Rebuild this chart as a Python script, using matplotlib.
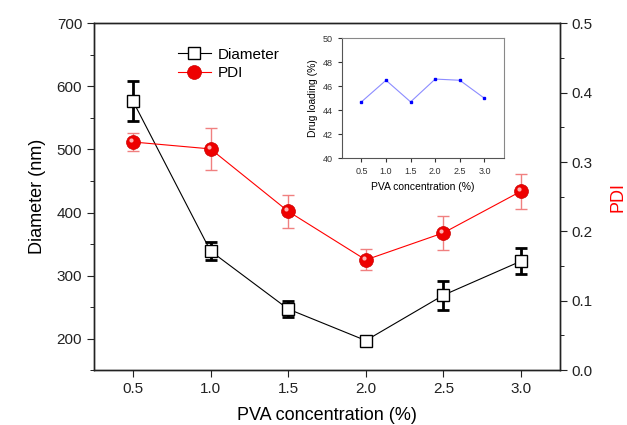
import numpy as np
import matplotlib.pyplot as plt
import matplotlib.transforms as mtransforms
from matplotlib.ticker import MultipleLocator, FormatStrFormatter

plt.rcParams['font.family'] = ['Liberation Sans', 'DejaVu Sans']

# data
pva = [0.5, 1.0, 1.5, 2.0, 2.5, 3.0]
diameter = [577, 339, 247, 197, 269, 323]
diameter_err = [32, 15, 12, 5, 23, 21]
pdi = [0.329, 0.319, 0.229, 0.159, 0.198, 0.258]
pdi_err = [0.013, 0.030, 0.024, 0.015, 0.025, 0.025]
loading = [44.7, 46.5, 44.7, 46.6, 46.5, 45.0]

fig = plt.figure(figsize=(6.27, 4.25), dpi=100)
ax = fig.add_axes([0.150, 0.129, 0.743, 0.816])
ax2 = ax.twinx()

# diameter (left axis)
ax.errorbar(pva, diameter, yerr=diameter_err, fmt='none', ecolor='black',
            elinewidth=2, capsize=4, capthick=2, zorder=2)
l1, = ax.plot(pva, diameter, color='black', lw=0.8, marker='s', ms=8,
              mfc='white', mec='black', mew=1, label='Diameter', zorder=3)

# PDI (right axis)
ax2.errorbar(pva, pdi, yerr=pdi_err, fmt='none', ecolor='#f08080',
             elinewidth=1, capsize=4, capthick=1, zorder=2)
l2, = ax2.plot(pva, pdi, color='red', lw=0.8, marker='o', ms=10,
               mfc='#ee0000', mec='#cc0000', mew=0.5, label='PDI', zorder=3)
# little highlight on the spheres
shift = mtransforms.ScaledTranslation(-2/100, 2/100, fig.dpi_scale_trans)
ax2.plot(pva, pdi, ls='none', marker='o', ms=3, mfc='#ffb0b0', mec='none',
         zorder=4, transform=ax2.transData + shift)

ax.set_xlim(0.25, 3.25)
ax.set_ylim(150, 700)
ax2.set_ylim(0, 0.5)
ax.set_xticks(pva)
ax.set_xticklabels(['0.5', '1.0', '1.5', '2.0', '2.5', '3.0'])
ax.yaxis.set_major_locator(MultipleLocator(100))
ax.yaxis.set_minor_locator(MultipleLocator(50))
ax2.yaxis.set_major_locator(MultipleLocator(0.1))
ax2.yaxis.set_minor_locator(MultipleLocator(0.05))
ax2.yaxis.set_major_formatter(FormatStrFormatter('%.1f'))

ax.tick_params(axis='both', which='major', direction='out', length=5, labelsize=11, colors='#222222')
ax.tick_params(axis='y', which='minor', direction='out', length=3)
ax2.tick_params(axis='y', which='major', direction='out', length=5, labelsize=11, colors='#222222')
ax2.tick_params(axis='y', which='minor', direction='out', length=3)
for a in (ax, ax2):
    for s in a.spines.values():
        s.set_linewidth(1.0)
        s.set_color('#222222')

ax.set_xlabel('PVA concentration (%)', fontsize=13, labelpad=8)
ax.set_ylabel('Diameter (nm)', fontsize=13, labelpad=8)
ax2.set_ylabel('PDI', fontsize=13, color='red', labelpad=12)

ax.legend(handles=[l1, l2], loc='upper left', bbox_to_anchor=(0.15, 0.97),
          frameon=False, fontsize=11, handlelength=2.2, handletextpad=0.4,
          labelspacing=0.3)

# inset: drug loading
ins = fig.add_axes([0.545, 0.6275, 0.259, 0.2825])
ins.plot(pva, loading, color='#8c8cff', lw=0.8, marker='s', ms=2,
         mfc='blue', mec='blue')
ins.set_xlim(0.1, 3.4)
ins.set_ylim(40, 50)
ins.set_xticks(pva)
ins.set_xticklabels(['0.5', '1.0', '1.5', '2.0', '2.5', '3.0'])
ins.yaxis.set_major_locator(MultipleLocator(2))
ins.tick_params(direction='out', length=3, labelsize=6.5, colors='#333333')
for s in ins.spines.values():
    s.set_linewidth(0.8)
    s.set_color('#888888')
ins.spines['left'].set_color('#555555')
ins.spines['bottom'].set_color('#555555')
ins.set_xlabel('PVA concentration (%)', fontsize=7.5, labelpad=4)
ins.set_ylabel('Drug loading (%)', fontsize=7.5, labelpad=3)

fig.savefig('out.png', dpi=100)
